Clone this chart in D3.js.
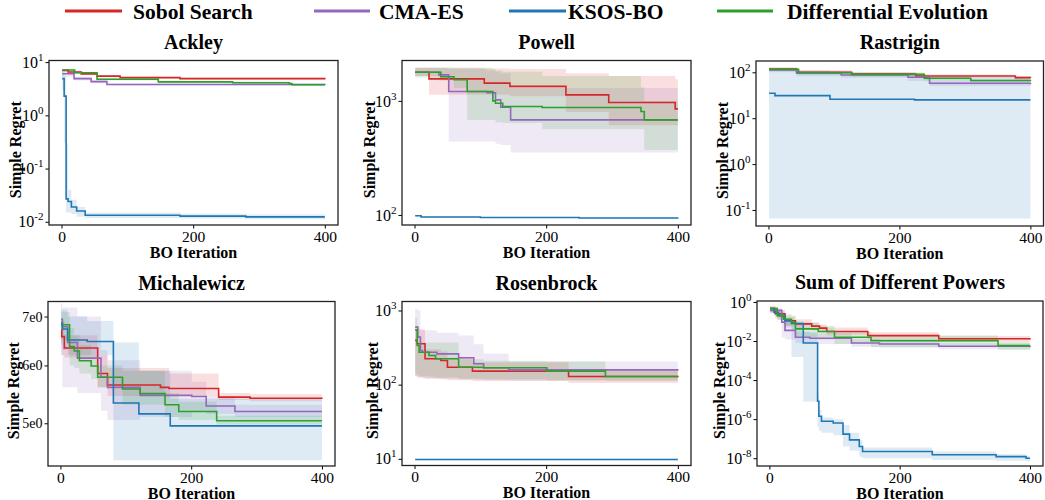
<!DOCTYPE html>
<html>
<head>
<meta charset="utf-8">
<script src="https://cdn.jsdelivr.net/npm/d3@7"></script>
<style>
  body { margin: 0; background: #fff; }
  svg text { font-family: "Liberation Serif", "Times New Roman", serif; fill: #000; }
</style>
</head>
<body>
<div id="vis-container"></div>
<script>
// methods in legend order
var methods = ["Sobol Search", "CMA-ES", "KSOS-BO", "Differential Evolution"];
var colors = ["#d62728", "#9467bd", "#1f77b4", "#2ca02c"];
var xTicks = [0, 200, 400];
var serif = "Liberation Serif, Times New Roman, serif";

// each row: [iteration, mean, lower, upper]
var ackleySobol = [[1,7.0,6.7,7.3],[10,6.5,6.2,6.8],[30,6.0,5.7,6.3],[54,5.45,5.2,5.7],[89,5.1,4.9,5.3],[180,4.9,4.7,5.1],[400,4.75,4.6,4.95]];
var ackleyCma = [[1,6.05,5.3,6.8],[19,4.9,4.5,5.3],[45,4.3,4.0,4.6],[69,3.8,3.65,3.95],[400,3.7,3.55,3.85]];
var ackleyKsos = [[1,4.9,3.0,6.5],[4,2.3,0.3,5.5],[7,0.027,0.015,0.3],[10,0.024,0.015,0.04],[15,0.019,0.014,0.026],[23,0.016,0.0125,0.019],[36,0.0133,0.0118,0.015],[180,0.0128,0.0115,0.0142],[280,0.0124,0.0112,0.0137],[400,0.0124,0.0112,0.0137]];
var ackleyDe = [[1,7.1,6.8,7.4],[20,6.3,6.0,6.6],[54,4.75,4.5,5.0],[147,4.25,4.05,4.45],[260,4.1,3.9,4.3],[346,3.95,3.8,4.1],[350,3.75,3.6,3.9],[400,3.75,3.6,3.9]];

var powellSobol = [[1,1780,1650,1950],[22,1560,1130,1950],[106,1430,1130,1920],[145,1340,1100,1900],[230,1130,800,1750],[295,967,610,1650],[396,851,610,1550],[400,851,610,1550]];
var powellCma = [[1,1780,1650,1950],[37,1690,1500,1950],[52,1210,440,1900],[110,1180,440,1850],[123,1020,420,1800],[131,880,410,1750],[146,681,352,1300],[400,681,352,1250]];
var powellKsos = [[1,98.5,97,100],[10,96,95,97.5],[100,95,94,96],[250,94,93,95],[400,93,92,94]];
var powellDe = [[1,1780,1600,1950],[40,1630,1550,1950],[60,1530,1300,1950],[80,1210,680,1950],[119,1000,680,1900],[123,954,650,1850],[134,892,640,1800],[194,874,564,1650],[344,806,564,1320],[349,681,372,1000],[400,681,372,1000]];

var rastriginSobol = [[1,118,108,128],[43,100,92,110],[127,92,84,100],[225,83,76,90],[377,76.5,70,83],[400,75,69,82]];
var rastriginCma = [[1,112,100,122],[43,95,82,108],[111,87,76,98],[213,78,65,90],[246,57.5,50,66],[400,55,49,63]];
var rastriginKsos = [[1,35,0.065,115],[10,31,0.065,110],[94,25.8,0.065,95],[223,25,0.065,80],[400,25,0.065,60]];
var rastriginDe = [[1,116,106,126],[46,98,88,108],[127,90,80,100],[238,74,66,82],[309,66,60,73],[400,65,59,72]];

var michalewiczSobol = [[1,6.71,6.45,6.95],[2,6.57,6.2,6.9],[6,6.34,6.15,6.6],[57,5.85,5.6,6.2],[72,5.64,5.45,5.95],[153,5.6,5.45,5.95],[166,5.58,5.45,5.85],[242,5.43,5.38,5.5],[290,5.41,5.36,5.48],[400,5.4,5.35,5.47]];
var michalewiczCma = [[1,6.94,6.2,7.3],[3,6.78,5.6,7.2],[11,6.45,5.6,7.2],[26,6.14,5.5,7.0],[62,5.78,5.2,6.3],[72,5.6,5.05,6.1],[122,5.46,5.1,5.9],[201,5.44,5.2,5.7],[223,5.28,5.15,5.45],[267,5.19,5.1,5.3],[400,5.19,5.1,5.3]];
var michalewiczKsos = [[1,6.86,6.4,7.15],[3,6.73,6.3,7.15],[11,6.5,6.2,7.0],[41,6.47,6.2,6.9],[81,5.33,4.45,6.45],[120,5.15,4.45,5.9],[168,4.96,4.45,5.4],[400,4.96,4.45,5.3]];
var michalewiczDe = [[1,6.82,6.5,7.1],[14,6.37,6.0,6.75],[21,6.28,5.95,6.6],[29,6.09,5.85,6.4],[47,5.99,5.75,6.2],[57,5.78,5.6,6.0],[95,5.57,5.3,5.9],[122,5.49,5.3,5.9],[160,5.3,5.1,5.5],[181,5.19,5.05,5.35],[239,5.04,4.98,5.12],[400,5.04,4.98,5.12]];

var rosenbrockSobol = [[1,395,130,560],[4,356,125,560],[16,223,120,300],[40,212,118,280],[50,172,115,230],[88,152,112,200],[234,129,105,160],[400,126,105,155]];
var rosenbrockCma = [[1,596,130,1050],[5,437,128,1000],[9,289,125,550],[12,274,122,540],[34,260,120,500],[67,230,118,460],[90,191,116,350],[105,169,115,260],[143,158,114,205],[400,155,113,205]];
var rosenbrockKsos = [[1,9.8,9.6,10.0],[400,9.8,9.6,10.0]];
var rosenbrockDe = [[1,548,140,800],[4,337,135,600],[7,274,130,370],[22,247,128,370],[32,223,125,370],[67,172,120,220],[105,169,118,210],[201,152,115,205],[290,129,112,155],[400,129,112,150]];

var sumpowSobol = [[1,4.6e-1,3.0e-1,6.0e-1],[9,2.5e-1,1.4e-1,4.0e-1],[24,1.1e-1,6e-2,2.0e-1],[40,7.6e-2,4.5e-2,1.3e-1],[65,5.8e-2,3.5e-2,9e-2],[77,4.6e-2,2.8e-2,7e-2],[88,3.1e-2,2.0e-2,5e-2],[151,1.9e-2,1.3e-2,2.8e-2],[260,1.3e-2,9e-3,1.8e-2],[400,1.2e-2,8e-3,1.6e-2]];
var sumpowCma = [[1,3.7e-1,2.5e-1,5e-1],[19,9.3e-2,1.5e-2,1.8e-1],[24,3.5e-2,1.2e-2,1.2e-1],[40,1.55e-2,8e-3,3e-2],[62,1.4e-2,7e-3,2.5e-2],[126,7.9e-3,5e-3,1.3e-2],[169,7.1e-3,4.5e-3,1.1e-2],[260,5.4e-3,3.8e-3,8e-3],[400,4.8e-3,3.5e-3,7e-3]];
var sumpowKsos = [[1,4.6e-1,3.5e-1,5.5e-1],[7,3.0e-1,2.0e-1,4.0e-1],[14,2.0e-1,1.2e-1,3.0e-1],[24,1.1e-1,5e-2,1.5e-1],[34,7.9e-2,1.5e-3,1.0e-1],[52,7.9e-3,8e-6,3e-2],[74,8.3e-6,4e-7,2e-5],[76,1.4e-6,2.5e-7,3e-6],[80,7.8e-7,2e-7,1.2e-6],[98,6.3e-7,1.5e-7,1.0e-6],[113,1.7e-7,4e-8,5e-7],[123,8.7e-8,2.5e-8,2e-7],[138,4.0e-8,1.2e-8,8e-8],[143,2.2e-8,1e-8,3.5e-8],[250,1.5e-8,8e-9,2.2e-8],[348,1.2e-8,7.5e-9,1.6e-8],[394,1.0e-8,7e-9,1.3e-8],[400,1.0e-8,7e-9,1.3e-8]];
var sumpowDe = [[1,4.6e-1,3e-1,6e-1],[12,2.0e-1,1.2e-1,3.5e-1],[22,1.3e-1,6e-2,2.5e-1],[34,9.3e-2,4e-2,1.8e-1],[40,4.2e-2,1.5e-2,9e-2],[75,3.1e-2,1.2e-2,6e-2],[100,1.55e-2,7e-3,3e-2],[156,1.05e-2,5e-3,2e-2],[351,5.8e-3,3.5e-3,9e-3],[400,5.8e-3,3.5e-3,9e-3]];

var panels = [
  { title: "Ackley", box: [49, 60.5, 289, 164.5], yDomain: [Math.pow(10,-2.06), Math.pow(10,1.03)],
    yTicks: [1e-2, 1e-1, 1e0, 1e1], exps: true, ylab: -34, series: [ackleySobol, ackleyCma, ackleyKsos, ackleyDe] },
  { title: "Powell", box: [402, 60.5, 289, 164.5], yDomain: [Math.pow(10,1.912), Math.pow(10,3.354)],
    yTicks: [1e2, 1e3], exps: true, ylab: -33, series: [powellSobol, powellCma, powellKsos, powellDe] },
  { title: "Rastrigin", box: [756, 61, 287.5, 165], yDomain: [Math.pow(10,-1.349), Math.pow(10,2.246)],
    yTicks: [1e-1, 1e0, 1e1, 1e2], exps: true, ylab: -33.5, series: [rastriginSobol, rastriginCma, rastriginKsos, rastriginDe] },
  { title: "Michalewicz", box: [48, 301.5, 287, 164.5], yDomain: [4.37, 7.34],
    yTicks: [5, 6, 7], exps: false, ylab: -35, series: [michalewiczSobol, michalewiczCma, michalewiczKsos, michalewiczDe] },
  { title: "Rosenbrock", box: [402, 301.5, 289, 164], yDomain: [Math.pow(10,0.91), Math.pow(10,3.121)],
    yTicks: [1e1, 1e2, 1e3], exps: true, ylab: -30, series: [rosenbrockSobol, rosenbrockCma, rosenbrockKsos, rosenbrockDe] },
  { title: "Sum of Different Powers", box: [757, 301, 286, 165], yDomain: [Math.pow(10,-8.4), Math.pow(10,0.05)],
    yTicks: [1e-8, 1e-6, 1e-4, 1e-2, 1e0], exps: true, ylab: -38, series: [sumpowSobol, sumpowCma, sumpowKsos, sumpowDe] }
];

var svg = d3.select("#vis-container").append("svg")
  .attr("width", 1045)
  .attr("height", 500)
  .attr("font-family", serif);

// legend
var legendLines = [[65, 122, 133], [314, 370, 379], [509, 566, 568], [717, 773, 787]];
methods.forEach(function(m, i) {
  var p = legendLines[i];
  svg.append("line")
    .attr("x1", p[0]).attr("x2", p[1])
    .attr("y1", 11).attr("y2", 11)
    .style("stroke", colors[i])
    .style("stroke-width", 3);
  svg.append("text")
    .attr("x", p[2]).attr("y", 19)
    .style("font-size", "21.5px")
    .style("font-weight", "bold")
    .text(m);
});

panels.forEach(function(p, pi) {
  var w = p.box[2], h = p.box[3];
  var g = svg.append("g")
    .attr("transform", "translate(" + p.box[0] + "," + p.box[1] + ")");

  var x = d3.scaleLinear().domain([-19, 420]).range([0, w]);
  var y = d3.scaleLog().domain(p.yDomain).range([h, 0]);

  g.append("clipPath").attr("id", "clip" + pi)
    .append("rect").attr("width", w).attr("height", h);

  var plot = g.append("g").attr("clip-path", "url(#clip" + pi + ")");

  var area = d3.area()
    .curve(d3.curveStepAfter)
    .x(d => x(d[0]))
    .y0(d => y(d[2]))
    .y1(d => y(d[3]));

  var line = d3.line()
    .curve(d3.curveStepAfter)
    .x(d => x(d[0]))
    .y(d => y(d[1]));

  // bands first, then mean lines
  p.series.forEach(function(s, i) {
    plot.append("path")
      .datum(s)
      .attr("d", area)
      .style("fill", colors[i])
      .style("fill-opacity", 0.15)
      .style("stroke", "none");
  });
  p.series.forEach(function(s, i) {
    plot.append("path")
      .datum(s)
      .attr("d", line)
      .style("fill", "none")
      .style("stroke", colors[i])
      .style("stroke-width", 1.6);
  });

  // X axis
  var xAxis = g.append("g")
    .attr("transform", "translate(0," + h + ")")
    .call(d3.axisBottom(x).tickValues(xTicks).tickSize(3.5).tickPadding(2).tickFormat(d3.format("d")))
    .attr("font-family", serif);
  xAxis.select(".domain").remove();
  xAxis.selectAll("text").style("font-size", "15.5px");

  // Y axis
  var yAxis = g.append("g")
    .call(d3.axisLeft(y).tickValues(p.yTicks).tickSize(3.5).tickPadding(2)
      .tickFormat(d => p.exps ? "" : d + "e0"))
    .attr("font-family", serif);
  yAxis.select(".domain").remove();
  if (p.exps) {
    yAxis.selectAll("text")
      .style("font-size", "16px")
      .each(function(d) {
        var t = d3.select(this);
        var e = Math.round(Math.log10(d));
        t.append("tspan").text("10");
        t.append("tspan").attr("dy", -7).style("font-size", "11px").text(e);
      });
  } else {
    yAxis.selectAll("text").style("font-size", "14px");
  }
  g.selectAll(".tick line").style("stroke", "#000");

  // frame
  g.append("rect")
    .attr("width", w).attr("height", h)
    .style("fill", "none")
    .style("stroke", "#222")
    .style("stroke-width", 1.3);

  // title and labels
  g.append("text")
    .attr("x", w / 2).attr("y", -12)
    .attr("text-anchor", "middle")
    .style("font-size", "20px").style("font-weight", "bold")
    .text(p.title);

  g.append("text")
    .attr("x", w / 2).attr("y", h + 32.5)
    .attr("text-anchor", "middle")
    .style("font-size", "16px").style("font-weight", "bold")
    .text("BO Iteration");

  g.append("text")
    .attr("transform", "translate(" + p.ylab + "," + (h / 2 + 7) + ") rotate(-90)")
    .attr("text-anchor", "middle")
    .attr("dy", "0.35em")
    .style("font-size", "16px").style("font-weight", "bold")
    .text("Simple Regret");
});
</script>
</body>
</html>
